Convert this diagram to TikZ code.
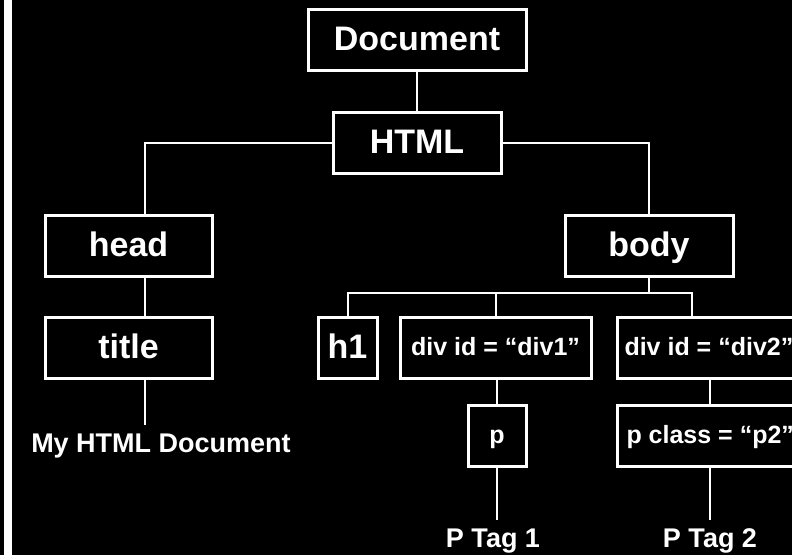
\documentclass[tikz,border=0pt]{standalone}
\usepackage{fontspec}
\setmainfont{Liberation Sans}
\usepackage{tikz}
\usetikzlibrary{positioning,calc}
\tikzstyle{bigbox} = [draw=white, line width=3pt, text=white, font=\bfseries\fontsize{34}{40}\selectfont, text height=25pt, text depth=4pt, minimum height=61pt, inner sep=0pt]
\tikzstyle{smallbox} = [draw=white, line width=3pt, text=white, font=\bfseries\fontsize{25}{30}\selectfont, text height=18pt, text depth=3pt, minimum height=61pt, inner xsep=7pt, inner ysep=0pt]
\tikzstyle{leaf} = [text=white, font=\bfseries\fontsize{27}{32}\selectfont, inner sep=8pt, anchor=base]
\tikzstyle{link} = [white, line width=2pt]

\begin{document}
\begin{tikzpicture}[x=1pt, y=-1pt]
\useasboundingbox (0,0) rectangle (792,555);
\clip (0,0) rectangle (792,555);
\fill [black] (0,0) rectangle (792,555);
\fill [white] (4,0) rectangle (12,555);

\draw (417,39.5) node[bigbox, minimum width=218pt] (doc) {Document};
\draw (417,142.5) node[bigbox, minimum width=168pt] (html) {HTML};
\draw (128.5,246) node[bigbox, minimum width=167pt] (head) {head};
\draw (649,246) node[bigbox, minimum width=168pt] (body) {body};
\draw (128.5,347.5) node[bigbox, minimum width=167pt] (title) {title};
\draw (347.5,347.5) node[bigbox, minimum width=59pt] (h1) {h1};
\draw (495.5,347.5) node[smallbox, minimum width=191pt] (div1) {div id = “div1”};
\draw (616,347.5) node[smallbox, anchor=west] (div2) {div id = “div2”};
\draw (497,435.5) node[smallbox, minimum width=58pt] (p) {p};
\draw (616,435.5) node[smallbox, anchor=west, inner xsep=9pt] (pclass) {p class = “p2”};

\draw (161,452) node[leaf] (mydoc) {My HTML Document};
\draw (493,547) node[leaf] (ptag1) {P Tag 1};
\draw (710,547) node[leaf] (ptag2) {P Tag 2};

\coordinate (lcol) at (145,0);
\coordinate (rcol) at (710,0);
\coordinate (busr) at (692,293);

\draw [link] (doc) -- (html);
\draw [link] (html.west) -| (lcol |- head.north);
\draw [link] (html.east) -| (body.north);
\draw [link] (head.south -| lcol) -- (title.north -| lcol);
\draw [link] (title.south -| lcol) -- (mydoc.north -| lcol);

\draw [link] (body.south) -- (body.south |- busr);
\draw [link] (h1.north) |- (busr) -- (busr |- div2.north);
\draw [link] (div1.north) -- (div1.north |- busr);
\draw [link] (p.north) -- (p.north |- div1.south);
\draw [link] (p.south) -- (p.south |- ptag1.north);
\draw [link] (div2.south -| rcol) -- (pclass.north -| rcol);
\draw [link] (pclass.south -| rcol) -- (ptag2.north);
\end{tikzpicture}
\end{document}
